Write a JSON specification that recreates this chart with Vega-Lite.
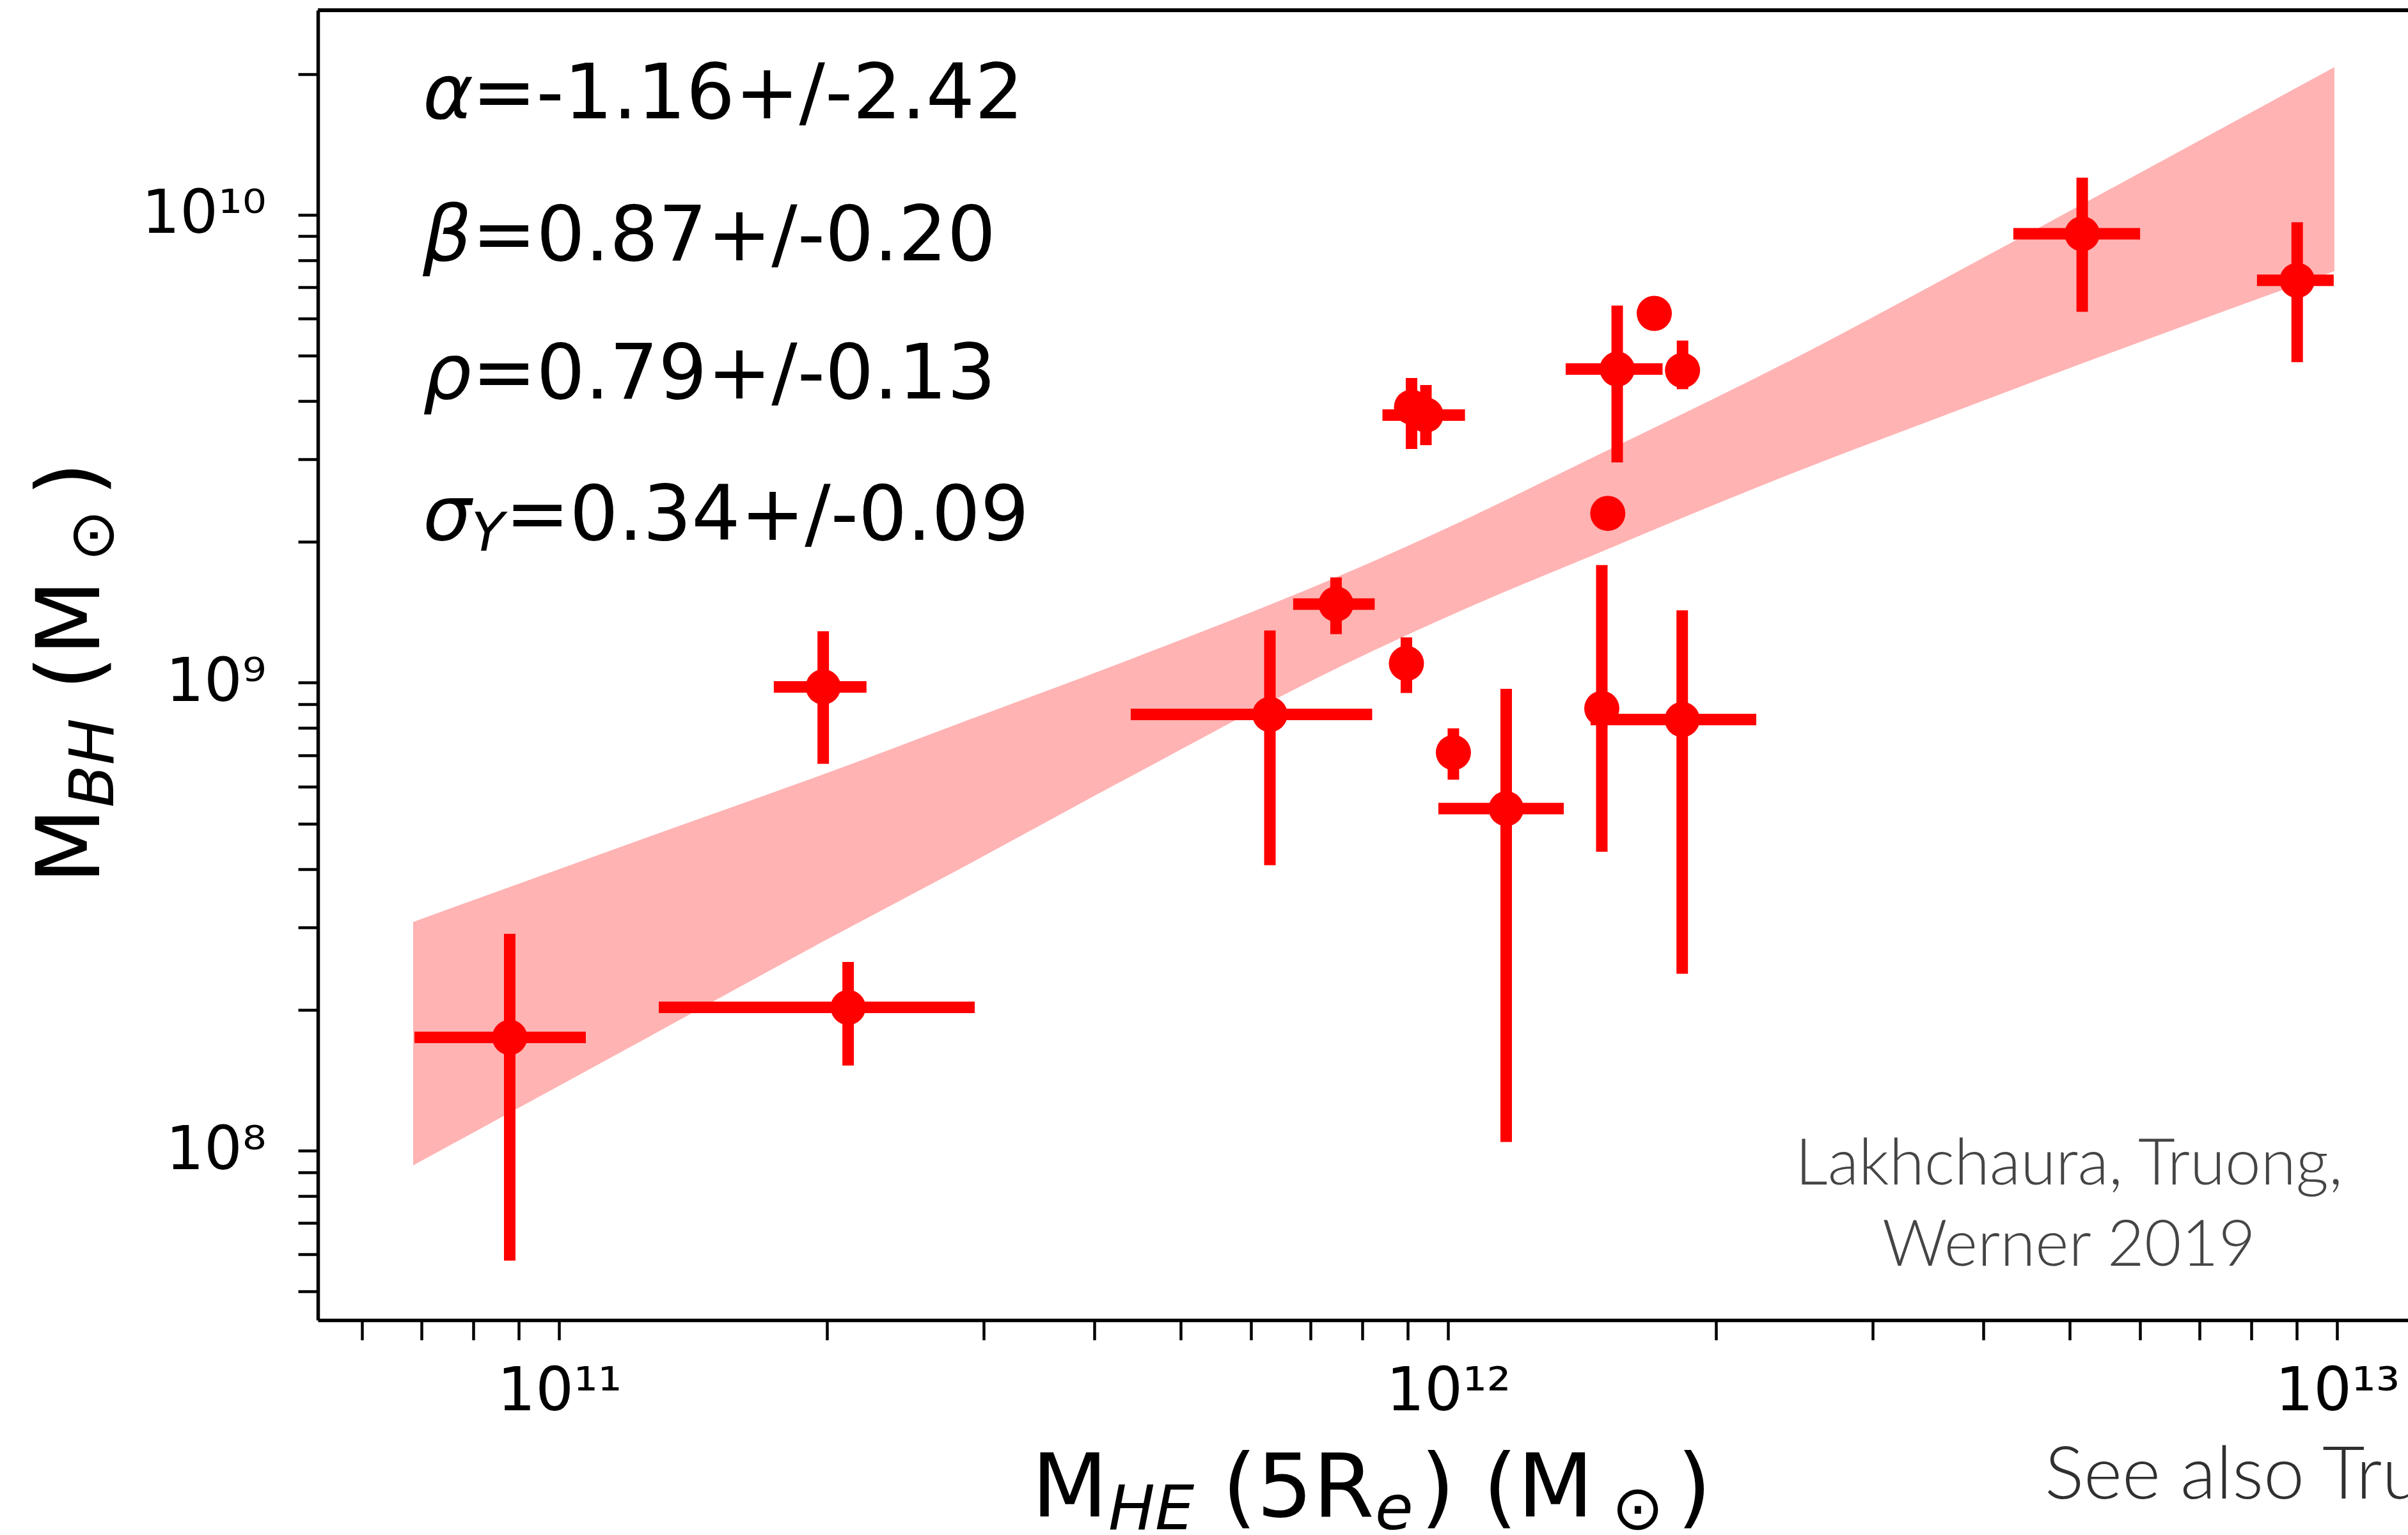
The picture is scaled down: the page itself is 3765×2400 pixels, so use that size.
{
  "$schema": "https://vega.github.io/schema/vega-lite/v6.json",
  "width": 3268,
  "height": 2048,
  "autosize": "none",
  "padding": {"left": 497, "top": 16, "right": 0, "bottom": 336},
  "background": "white",
  "config": {"view": {"stroke": null}},
  "datasets": {
    "pts": [
      {"x": 8.795e10, "y": 1.746e8, "xlo": 6.872e10, "xhi": 1.0711e11, "ylo": 5.822e7, "yhi": 2.907e8},
      {"x": 1.981e11, "y": 9.796e8, "xlo": 1.743e11, "xhi": 2.216e11, "ylo": 6.712e8, "yhi": 1.288e9},
      {"x": 2.113e11, "y": 2.024e8, "xlo": 1.294e11, "xhi": 2.933e11, "ylo": 1.520e8, "yhi": 2.531e8},
      {"x": 6.300e11, "y": 8.557e8, "xlo": 4.393e11, "xhi": 8.211e11, "ylo": 4.076e8, "yhi": 1.2937e9},
      {"x": 7.477e11, "y": 1.4724e9, "xlo": 6.691e11, "xhi": 8.265e11, "ylo": 1.270e9, "yhi": 1.680e9},
      {"x": 8.972e11, "y": 1.0997e9, "ylo": 9.511e8, "yhi": 1.2499e9},
      {"x": 9.092e11, "y": 3.881e9, "ylo": 3.159e9, "yhi": 4.479e9},
      {"x": 9.437e11, "y": 3.733e9, "xlo": 8.432e11, "xhi": 1.0442e12, "ylo": 3.219e9, "yhi": 4.326e9},
      {"x": 1.0133e12, "y": 7.094e8, "ylo": 6.209e8, "yhi": 7.993e8},
      {"x": 1.1618e12, "y": 5.382e8, "xlo": 9.746e11, "xhi": 1.3486e12, "ylo": 1.0441e8, "yhi": 9.706e8},
      {"x": 1.4883e12, "y": 8.811e8, "ylo": 4.354e8, "yhi": 1.784e9},
      {"x": 1.5114e12, "y": 2.301e9},
      {"x": 1.5488e12, "y": 4.680e9, "xlo": 1.3553e12, "xhi": 1.7420e12, "ylo": 2.957e9, "yhi": 6.399e9},
      {"x": 1.7049e12, "y": 6.156e9},
      {"x": 1.8344e12, "y": 4.651e9, "ylo": 4.239e9, "yhi": 5.384e9},
      {"x": 1.8329e12, "y": 8.344e8, "xlo": 1.4456e12, "xhi": 2.2204e12, "ylo": 2.388e8, "yhi": 1.4281e9},
      {"x": 5.165e12, "y": 9.106e9, "xlo": 4.321e12, "xhi": 6.001e12, "ylo": 6.203e9, "yhi": 1.2003e10},
      {"x": 9.013e12, "y": 7.243e9, "xlo": 8.122e12, "xhi": 9.908e12, "ylo": 4.842e9, "yhi": 9.636e9}
    ],
    "band": [
      {"x": 6.849e10, "lo": 9.305e7, "hi": 3.0826e8},
      {"x": 1.2312e11, "lo": 1.7083e8, "hi": 4.611e8},
      {"x": 2.0241e11, "lo": 2.8615e8, "hi": 6.466e8},
      {"x": 2.8184e11, "lo": 3.9957e8, "hi": 8.188e8},
      {"x": 4.264e11, "lo": 6.118e8, "hi": 1.099e9},
      {"x": 7.614e11, "lo": 1.0903e9, "hi": 1.7047e9},
      {"x": 1.0606e12, "lo": 1.4567e9, "hi": 2.2627e9},
      {"x": 1.3598e12, "lo": 1.7756e9, "hi": 2.8476e9},
      {"x": 2.6379e12, "lo": 2.9716e9, "hi": 5.301e9},
      {"x": 3.3815e12, "lo": 3.5521e9, "hi": 6.8202e9},
      {"x": 4.7101e12, "lo": 4.5078e9, "hi": 9.581e9},
      {"x": 9.926e12, "lo": 7.577e9, "hi": 2.0679e10}
    ],
    "ann": [
      {"g": "greek", "t": "α", "x": 7.022e10, "y": 1.6075e10},
      {"g": "greek", "t": "β", "x": 7.022e10, "y": 8.005e9},
      {"g": "greek", "t": "ρ", "x": 7.022e10, "y": 4.0527e9},
      {"g": "greek", "t": "σ", "x": 7.022e10, "y": 2.0217e9},
      {"g": "stat", "t": "=-1.16+/-2.42", "x": 7.976e10, "y": 1.6075e10},
      {"g": "stat", "t": "=0.87+/-0.20", "x": 7.976e10, "y": 8.005e9},
      {"g": "stat", "t": "=0.79+/-0.13", "x": 7.976e10, "y": 4.0527e9},
      {"g": "stat", "t": "=0.34+/-0.09", "x": 8.694e10, "y": 2.0217e9},
      {"g": "statsub", "t": "Y", "x": 7.963e10, "y": 1.915e9},
      {"g": "credit", "t": "Lakhchaura, Truong,", "x": 4.991e12, "y": 8.468e7},
      {"g": "credit", "t": "Werner 2019", "x": 4.991e12, "y": 5.677e7},
      {"g": "see", "t": "See also Truong", "x": 4.687e12, "y": 1.8047e7},
      {"g": "xt", "t": "M", "x": 3.3984e11, "y": 1.655e7},
      {"g": "xts", "t": "HE", "x": 4.146e11, "y": 1.552e7},
      {"g": "xt", "t": "(5R", "x": 5.5682e11, "y": 1.655e7},
      {"g": "xts", "t": "e", "x": 8.2718e11, "y": 1.552e7},
      {"g": "xt", "t": ") (M", "x": 9.3048e11, "y": 1.655e7},
      {"g": "xtu", "t": "⊙", "x": 1.5272e12, "y": 1.552e7},
      {"g": "xt", "t": ")", "x": 1.8078e12, "y": 1.655e7},
      {"g": "yt", "t": "M", "x": 3.0369e10, "y": 3.7166e8},
      {"g": "yts", "t": "BH", "x": 3.1499e10, "y": 5.414e8},
      {"g": "yt", "t": "(M", "x": 3.0369e10, "y": 9.6431e8},
      {"g": "ytu", "t": "⊙", "x": 3.1499e10, "y": 1.8156e9},
      {"g": "yt", "t": ")", "x": 3.0369e10, "y": 2.5026e9}
    ]
  },
  "layer": [
    {
      "data": {"name": "band"},
      "mark": {"type": "area", "color": "#ffb3b3", "opacity": 1, "interpolate": "monotone"},
      "encoding": {
        "x": {
          "field": "x", "type": "quantitative",
          "scale": {"type": "log", "domain": [5.351e10, 1.201e13], "nice": false},
          "axis": {
            "values": [6e10, 7e10, 8e10, 9e10, 1e11, 2e11, 3e11, 4e11, 5e11, 6e11, 7e11, 8e11, 9e11, 1e12, 2e12, 3e12, 4e12, 5e12, 6e12, 7e12, 8e12, 9e12, 1e13],
            "title": null, "grid": false,
            "domainColor": "black", "domainWidth": 5.5,
            "tickColor": "black", "tickSize": 31, "tickWidth": 4.5,
            "labelExpr": "datum.value == 1e11 ? '10¹¹' : datum.value == 1e12 ? '10¹²' : datum.value == 1e13 ? '10¹³' : ''",
            "labelFont": "DejaVu Sans", "labelFontSize": 94, "labelColor": "black", "labelLimit": 0,
            "labelPadding": 35, "labelOverlap": false, "labelFlush": false, "labelBound": false,
            "encode": {"ticks": {"update": {
              "y2": {"signal": "(datum.value == 1e11 || datum.value == 1e12 || datum.value == 1e13) ? 31 : 17"},
              "strokeWidth": {"signal": "(datum.value == 1e11 || datum.value == 1e12 || datum.value == 1e13) ? 4.5 : 3.5"}
            }}}
          }
        },
        "y": {
          "field": "lo", "type": "quantitative",
          "scale": {"type": "log", "domain": [4.345e7, 2.736e10], "nice": false},
          "axis": {
            "values": [5e7, 6e7, 7e7, 8e7, 9e7, 1e8, 2e8, 3e8, 4e8, 5e8, 6e8, 7e8, 8e8, 9e8, 1e9, 2e9, 3e9, 4e9, 5e9, 6e9, 7e9, 8e9, 9e9, 1e10, 2e10],
            "title": null, "grid": false,
            "domainColor": "black", "domainWidth": 5.5,
            "tickColor": "black", "tickSize": 31, "tickWidth": 4.5,
            "labelExpr": "datum.value == 1e8 ? '10⁸' : datum.value == 1e9 ? '10⁹' : datum.value == 1e10 ? '10¹⁰' : ''",
            "labelFont": "DejaVu Sans", "labelFontSize": 94, "labelColor": "black", "labelLimit": 0,
            "labelPadding": 50, "labelOverlap": false, "labelFlush": false, "labelBound": false,
            "encode": {"ticks": {"update": {
              "x2": {"signal": "(datum.value == 1e8 || datum.value == 1e9 || datum.value == 1e10) ? -31 : -17"},
              "strokeWidth": {"signal": "(datum.value == 1e8 || datum.value == 1e9 || datum.value == 1e10) ? 4.5 : 3.5"}
            }}}
          }
        },
        "y2": {"field": "hi"}
      }
    },
    {
      "data": {"name": "pts"},
      "transform": [{"filter": "isValid(datum.xlo)"}],
      "mark": {"type": "rule", "color": "#ff0000", "strokeWidth": 18},
      "encoding": {
        "x": {"field": "xlo", "type": "quantitative", "scale": {"type": "log", "domain": [5.351e10, 1.201e13], "nice": false}},
        "x2": {"field": "xhi"},
        "y": {"field": "y", "type": "quantitative", "scale": {"type": "log", "domain": [4.345e7, 2.736e10], "nice": false}}
      }
    },
    {
      "data": {"name": "pts"},
      "transform": [{"filter": "isValid(datum.ylo)"}],
      "mark": {"type": "rule", "color": "#ff0000", "strokeWidth": 18},
      "encoding": {
        "x": {"field": "x", "type": "quantitative", "scale": {"type": "log", "domain": [5.351e10, 1.201e13], "nice": false}},
        "y": {"field": "ylo", "type": "quantitative", "scale": {"type": "log", "domain": [4.345e7, 2.736e10], "nice": false}},
        "y2": {"field": "yhi"}
      }
    },
    {
      "data": {"name": "pts"},
      "mark": {"type": "point", "shape": "circle", "filled": true, "color": "#ff0000", "opacity": 1, "size": 3025, "strokeWidth": 0},
      "encoding": {
        "x": {"field": "x", "type": "quantitative", "scale": {"type": "log", "domain": [5.351e10, 1.201e13], "nice": false}},
        "y": {"field": "y", "type": "quantitative", "scale": {"type": "log", "domain": [4.345e7, 2.736e10], "nice": false}}
      }
    },
    {
      "data": {"values": [{"top": 2.736e10}]},
      "mark": {"type": "rule", "color": "black", "strokeWidth": 6},
      "encoding": {
        "y": {"field": "top", "type": "quantitative", "scale": {"type": "log", "domain": [4.345e7, 2.736e10], "nice": false}}
      }
    },
    {
      "data": {"name": "ann"},
      "transform": [{"filter": "datum.g == 'greek'"}],
      "mark": {"type": "text", "font": "DejaVu Sans", "fontSize": 120, "fontStyle": "italic", "align": "left", "baseline": "alphabetic", "color": "black"},
      "encoding": {
        "x": {"field": "x", "type": "quantitative", "scale": {"type": "log", "domain": [5.351e10, 1.201e13], "nice": false}},
        "y": {"field": "y", "type": "quantitative", "scale": {"type": "log", "domain": [4.345e7, 2.736e10], "nice": false}},
        "text": {"field": "t"}
      }
    },
    {
      "data": {"name": "ann"},
      "transform": [{"filter": "datum.g == 'stat'"}],
      "mark": {"type": "text", "font": "DejaVu Sans", "fontSize": 120, "align": "left", "baseline": "alphabetic", "color": "black"},
      "encoding": {
        "x": {"field": "x", "type": "quantitative", "scale": {"type": "log", "domain": [5.351e10, 1.201e13], "nice": false}},
        "y": {"field": "y", "type": "quantitative", "scale": {"type": "log", "domain": [4.345e7, 2.736e10], "nice": false}},
        "text": {"field": "t"}
      }
    },
    {
      "data": {"name": "ann"},
      "transform": [{"filter": "datum.g == 'statsub'"}],
      "mark": {"type": "text", "font": "DejaVu Sans", "fontSize": 84, "fontStyle": "italic", "align": "left", "baseline": "alphabetic", "color": "black"},
      "encoding": {
        "x": {"field": "x", "type": "quantitative", "scale": {"type": "log", "domain": [5.351e10, 1.201e13], "nice": false}},
        "y": {"field": "y", "type": "quantitative", "scale": {"type": "log", "domain": [4.345e7, 2.736e10], "nice": false}},
        "text": {"field": "t"}
      }
    },
    {
      "data": {"name": "ann"},
      "transform": [{"filter": "datum.g == 'credit'"}],
      "mark": {"type": "text", "font": "Lato", "fontWeight": 300, "fontSize": 100, "align": "center", "baseline": "alphabetic", "color": "#454545"},
      "encoding": {
        "x": {"field": "x", "type": "quantitative", "scale": {"type": "log", "domain": [5.351e10, 1.201e13], "nice": false}},
        "y": {"field": "y", "type": "quantitative", "scale": {"type": "log", "domain": [4.345e7, 2.736e10], "nice": false}},
        "text": {"field": "t"}
      }
    },
    {
      "data": {"name": "ann"},
      "transform": [{"filter": "datum.g == 'see'"}],
      "mark": {"type": "text", "font": "Lato", "fontWeight": 300, "fontSize": 115, "align": "left", "baseline": "alphabetic", "color": "#303030"},
      "encoding": {
        "x": {"field": "x", "type": "quantitative", "scale": {"type": "log", "domain": [5.351e10, 1.201e13], "nice": false}},
        "y": {"field": "y", "type": "quantitative", "scale": {"type": "log", "domain": [4.345e7, 2.736e10], "nice": false}},
        "text": {"field": "t"}
      }
    },
    {
      "data": {"name": "ann"},
      "transform": [{"filter": "datum.g == 'xt'"}],
      "mark": {"type": "text", "font": "DejaVu Sans", "fontSize": 138, "align": "left", "baseline": "alphabetic", "color": "black"},
      "encoding": {
        "x": {"field": "x", "type": "quantitative", "scale": {"type": "log", "domain": [5.351e10, 1.201e13], "nice": false}},
        "y": {"field": "y", "type": "quantitative", "scale": {"type": "log", "domain": [4.345e7, 2.736e10], "nice": false}},
        "text": {"field": "t"}
      }
    },
    {
      "data": {"name": "ann"},
      "transform": [{"filter": "datum.g == 'xts'"}],
      "mark": {"type": "text", "font": "DejaVu Sans", "fontSize": 97, "fontStyle": "italic", "align": "left", "baseline": "alphabetic", "color": "black"},
      "encoding": {
        "x": {"field": "x", "type": "quantitative", "scale": {"type": "log", "domain": [5.351e10, 1.201e13], "nice": false}},
        "y": {"field": "y", "type": "quantitative", "scale": {"type": "log", "domain": [4.345e7, 2.736e10], "nice": false}},
        "text": {"field": "t"}
      }
    },
    {
      "data": {"name": "ann"},
      "transform": [{"filter": "datum.g == 'xtu'"}],
      "mark": {"type": "text", "font": "DejaVu Sans", "fontSize": 97, "align": "left", "baseline": "alphabetic", "color": "black"},
      "encoding": {
        "x": {"field": "x", "type": "quantitative", "scale": {"type": "log", "domain": [5.351e10, 1.201e13], "nice": false}},
        "y": {"field": "y", "type": "quantitative", "scale": {"type": "log", "domain": [4.345e7, 2.736e10], "nice": false}},
        "text": {"field": "t"}
      }
    },
    {
      "data": {"name": "ann"},
      "transform": [{"filter": "datum.g == 'yt'"}],
      "mark": {"type": "text", "font": "DejaVu Sans", "fontSize": 138, "angle": 270, "align": "left", "baseline": "alphabetic", "color": "black"},
      "encoding": {
        "x": {"field": "x", "type": "quantitative", "scale": {"type": "log", "domain": [5.351e10, 1.201e13], "nice": false}},
        "y": {"field": "y", "type": "quantitative", "scale": {"type": "log", "domain": [4.345e7, 2.736e10], "nice": false}},
        "text": {"field": "t"}
      }
    },
    {
      "data": {"name": "ann"},
      "transform": [{"filter": "datum.g == 'yts'"}],
      "mark": {"type": "text", "font": "DejaVu Sans", "fontSize": 97, "fontStyle": "italic", "angle": 270, "align": "left", "baseline": "alphabetic", "color": "black"},
      "encoding": {
        "x": {"field": "x", "type": "quantitative", "scale": {"type": "log", "domain": [5.351e10, 1.201e13], "nice": false}},
        "y": {"field": "y", "type": "quantitative", "scale": {"type": "log", "domain": [4.345e7, 2.736e10], "nice": false}},
        "text": {"field": "t"}
      }
    },
    {
      "data": {"name": "ann"},
      "transform": [{"filter": "datum.g == 'ytu'"}],
      "mark": {"type": "text", "font": "DejaVu Sans", "fontSize": 97, "angle": 270, "align": "left", "baseline": "alphabetic", "color": "black"},
      "encoding": {
        "x": {"field": "x", "type": "quantitative", "scale": {"type": "log", "domain": [5.351e10, 1.201e13], "nice": false}},
        "y": {"field": "y", "type": "quantitative", "scale": {"type": "log", "domain": [4.345e7, 2.736e10], "nice": false}},
        "text": {"field": "t"}
      }
    }
  ]
}
